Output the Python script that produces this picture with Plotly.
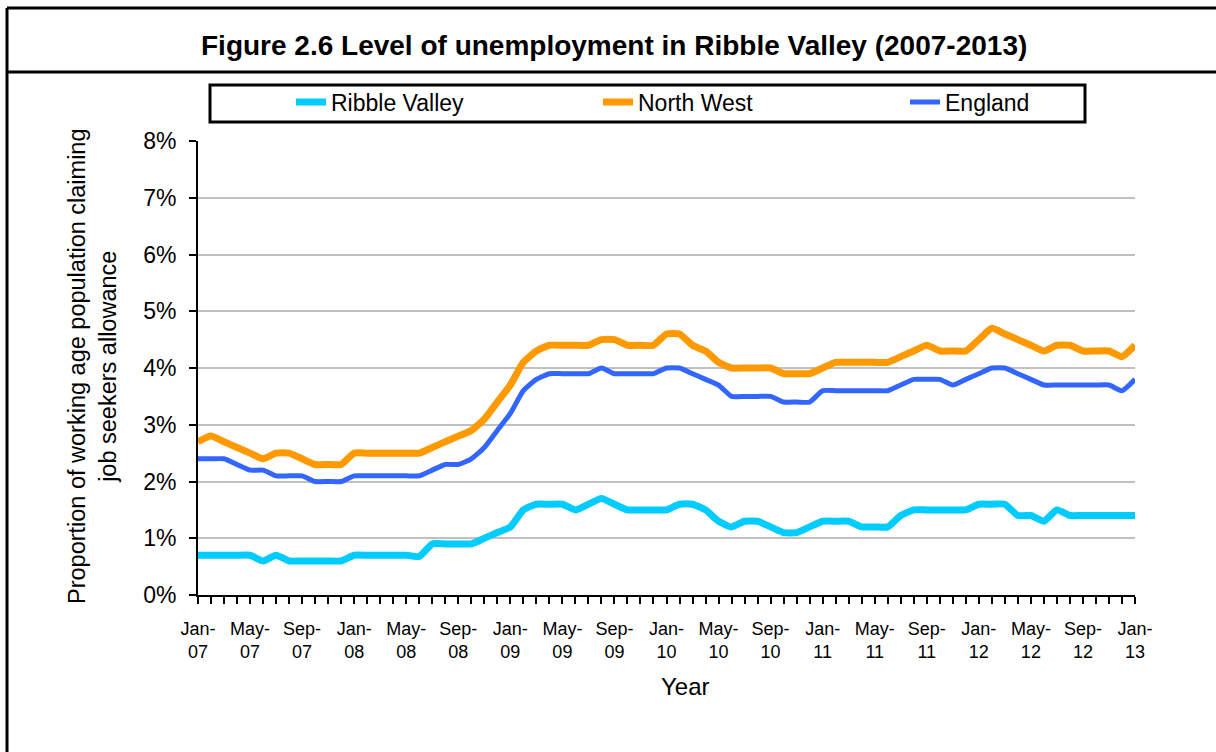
import plotly.graph_objects as go

W, H = 1216, 752

# month labels Jan-07 .. Jan-13
mon_names = ["Jan", "Feb", "Mar", "Apr", "May", "Jun",
             "Jul", "Aug", "Sep", "Oct", "Nov", "Dec"]
years = ["07", "08", "09", "10", "11", "12"]
months = [f"{m}-{y}" for y in years for m in mon_names] + ["Jan-13"]

ribble_valley = [
    0.7, 0.7, 0.7, 0.7, 0.7, 0.6, 0.7, 0.6, 0.6, 0.6, 0.6, 0.6,
    0.7, 0.7, 0.7, 0.7, 0.7, 0.68, 0.9, 0.9, 0.9, 0.9, 1.0, 1.1,
    1.2, 1.5, 1.6, 1.6, 1.6, 1.5, 1.6, 1.7, 1.6, 1.5, 1.5, 1.5,
    1.5, 1.6, 1.6, 1.5, 1.3, 1.2, 1.3, 1.3, 1.2, 1.1, 1.1, 1.2,
    1.3, 1.3, 1.3, 1.2, 1.2, 1.2, 1.4, 1.5, 1.5, 1.5, 1.5, 1.5,
    1.6, 1.6, 1.6, 1.4, 1.4, 1.3, 1.5, 1.4, 1.4, 1.4, 1.4, 1.4,
    1.4,
]
north_west = [
    2.7, 2.8, 2.7, 2.6, 2.5, 2.4, 2.5, 2.5, 2.4, 2.3, 2.3, 2.3,
    2.5, 2.5, 2.5, 2.5, 2.5, 2.5, 2.6, 2.7, 2.8, 2.9, 3.1, 3.4,
    3.7, 4.1, 4.3, 4.4, 4.4, 4.4, 4.4, 4.5, 4.5, 4.4, 4.4, 4.4,
    4.6, 4.6, 4.4, 4.3, 4.1, 4.0, 4.0, 4.0, 4.0, 3.9, 3.9, 3.9,
    4.0, 4.1, 4.1, 4.1, 4.1, 4.1, 4.2, 4.3, 4.4, 4.3, 4.3, 4.3,
    4.5, 4.7, 4.6, 4.5, 4.4, 4.3, 4.4, 4.4, 4.3, 4.3, 4.3, 4.2,
    4.4,
]
england = [
    2.4, 2.4, 2.4, 2.3, 2.2, 2.2, 2.1, 2.1, 2.1, 2.0, 2.0, 2.0,
    2.1, 2.1, 2.1, 2.1, 2.1, 2.1, 2.2, 2.3, 2.3, 2.4, 2.6, 2.9,
    3.2, 3.6, 3.8, 3.9, 3.9, 3.9, 3.9, 4.0, 3.9, 3.9, 3.9, 3.9,
    4.0, 4.0, 3.9, 3.8, 3.7, 3.5, 3.5, 3.5, 3.5, 3.4, 3.4, 3.4,
    3.6, 3.6, 3.6, 3.6, 3.6, 3.6, 3.7, 3.8, 3.8, 3.8, 3.7, 3.8,
    3.9, 4.0, 4.0, 3.9, 3.8, 3.7, 3.7, 3.7, 3.7, 3.7, 3.7, 3.6,
    3.8,
]

series = [
    ("Ribble Valley", ribble_valley, "#00CCFF", 7),
    ("North West", north_west, "#FF9900", 7),
    ("England", england, "#3366FF", 5),
]

FONT = "Liberation Sans, Arial, sans-serif"


def px(x):
    return x / W


def py(y):
    return 1 - y / H


x_idx = list(range(len(months)))
tick_idx = x_idx[::4]
tick_txt = [months[i].replace("-", "-<br>") for i in tick_idx]

fig = go.Figure()
for name, vals, col, lw in series:
    fig.add_trace(go.Scatter(
        x=x_idx, y=vals, name=name, mode="lines",
        line=dict(color=col, width=lw, shape="spline", smoothing=0.5),
        text=months, hovertemplate="%{text}: %{y}%<extra></extra>",
    ))

fig.update_layout(
    width=W, height=H,
    margin=dict(l=0, r=0, t=0, b=0, autoexpand=False),
    paper_bgcolor="white", plot_bgcolor="white",
    font=dict(family=FONT, color="black", size=18),
    showlegend=True,
    legend=dict(
        orientation="h", x=px(291), y=py(102), xanchor="left", yanchor="middle",
        font=dict(size=23), entrywidthmode="pixels", entrywidth=262,
        bgcolor="rgba(0,0,0,0)", borderwidth=0, itemwidth=30,
    ),
    xaxis=dict(
        domain=[px(198), px(1135)], range=[0, len(months) - 1],
        tickvals=tick_idx, ticktext=tick_txt,
        ticks="outside", ticklen=7, tickwidth=2, tickcolor="black",
        minor=dict(dtick=1, tick0=0, ticks="outside", ticklen=7,
                   tickwidth=2, tickcolor="black", showgrid=False),
        showline=True, linecolor="black", linewidth=2,
        showgrid=False, zeroline=False, automargin=False,
        tickfont=dict(size=18), ticklabelstandoff=9,
    ),
    yaxis=dict(
        domain=[py(595), py(141)], range=[0, 8], dtick=1,
        ticksuffix="%", ticks="outside", ticklen=7, tickwidth=2,
        tickcolor="black", showline=True, linecolor="black", linewidth=2,
        showgrid=True, gridcolor="#c0c0c0", gridwidth=2,
        zeroline=False, automargin=False, tickfont=dict(size=23),
        ticklabelstandoff=8,
    ),
    shapes=[
        # outer frame and title box
        dict(type="line", xref="paper", yref="paper", x0=px(7), x1=px(1216),
             y0=py(8), y1=py(8), line=dict(color="black", width=3)),
        dict(type="line", xref="paper", yref="paper", x0=px(7), x1=px(1216),
             y0=py(72), y1=py(72), line=dict(color="black", width=3)),
        dict(type="line", xref="paper", yref="paper", x0=px(7), x1=px(7),
             y0=py(8), y1=py(752), line=dict(color="black", width=3)),
        # legend box
        dict(type="rect", xref="paper", yref="paper", x0=px(210), x1=px(1085),
             y0=py(85), y1=py(122), line=dict(color="black", width=3)),
    ],
    annotations=[
        dict(text="<b>Figure 2.6 Level of unemployment in Ribble Valley (2007-2013)</b>",
             xref="paper", yref="paper", x=px(614), y=py(45),
             xanchor="center", yanchor="middle",
             showarrow=False, font=dict(size=28)),
        dict(text="Proportion of working age population claiming<br>job seekers allowance",
             xref="paper", yref="paper", x=px(92), y=py(366), textangle=-90,
             xanchor="center", yanchor="middle",
             showarrow=False, font=dict(size=23.5)),
        dict(text="Year", xref="paper", yref="paper", x=px(685), y=py(686),
             xanchor="center", yanchor="middle",
             showarrow=False, font=dict(size=24)),
    ],
)

fig.write_html("out.html", config={"displayModeBar": False},
               post_script="document.body.style.margin='0';")
